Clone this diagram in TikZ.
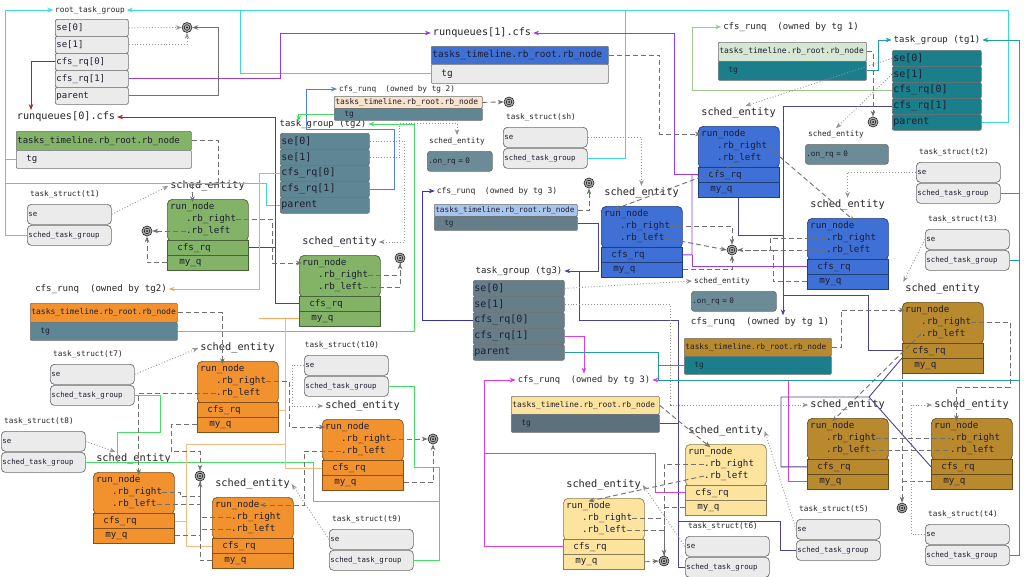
\documentclass[tikz,border=0pt]{standalone}
\usepackage{fontspec}
\setmainfont{DejaVu Sans Mono}
\usetikzlibrary{arrows.meta,calc,positioning}

\definecolor{rowgrey}{HTML}{EBEBEB}
\definecolor{edgegrey}{HTML}{6E6E6E}
\definecolor{txtdark}{HTML}{1E1E32}
\definecolor{segreen}{HTML}{82B366}
\definecolor{seblue}{HTML}{3E70D6}
\definecolor{seorange}{HTML}{F2922F}
\definecolor{seyellow}{HTML}{FDE49E}
\definecolor{segold}{HTML}{B8892D}
\definecolor{tgslate}{HTML}{5F8694}
\definecolor{tgslatec}{HTML}{667E8A}
\definecolor{tgteal}{HTML}{1B7F8B}
\definecolor{onrq}{HTML}{6B8B96}
\definecolor{hdbeige}{HTML}{F9E3CC}
\definecolor{hdlblue}{HTML}{A8C5EE}
\definecolor{hdlgreen}{HTML}{D6E8D3}
\definecolor{lncyan}{HTML}{3DD8D8}
\definecolor{lnpurple}{HTML}{9B3BDE}
\definecolor{lnred}{HTML}{9A2C2C}
\definecolor{lnblue}{HTML}{4E80D8}
\definecolor{lngreen}{HTML}{45DD62}
\definecolor{lnorange}{HTML}{F4A85E}
\definecolor{lnnavy}{HTML}{3434B4}
\definecolor{lnslate}{HTML}{4B4590}
\definecolor{lnmagenta}{HTML}{E03CE0}
\definecolor{lnteal}{HTML}{1F9CA6}
\definecolor{lnlgreen}{HTML}{9DC991}
\definecolor{lngrey}{HTML}{707070}

\newcommand{\mfs}[1]{\fontsize{#1}{#1}\selectfont}

\tikzset{
  >={Stealth[length=6pt,width=4.6pt]},
  fld/.style 2 args={draw=edgegrey, line width=0.7pt, anchor=north west,
    inner sep=0pt, minimum width=#1, text width=#1, minimum height=#2,
    align=left, text=txtdark, rounded corners=2pt},
  lbl/.style={inner sep=0pt, outer sep=2pt, text=black!85},
  setxt/.style={anchor=west, inner sep=0pt, text=txtdark, font=\mfs{9.2}},
  seblk/.style={line width=0.7pt, anchor=north west, minimum width=81pt,
    minimum height=42pt, rounded corners=5pt, inner sep=0pt},
  serow/.style={fld={81pt}{15pt}, rounded corners=0pt, font=\mfs{9.2}},
  nilsym/.style={circle, minimum size=10pt, inner sep=0pt, fill=gray!65,
    draw=gray!25!black, line width=0.6pt,
    path picture={\draw[gray!20!black,line width=0.5pt] (path picture bounding box.center) circle (2.8pt);
      \fill[gray!20!black] (path picture bounding box.center) circle (1pt);}},
  ln/.style={line width=0.9pt},
  rbln/.style={draw=lngrey, line width=0.9pt, dash pattern=on 5pt off 3pt},
  dotln/.style={draw=gray!85, line width=0.9pt, dash pattern=on 0.9pt off 2pt},
}

% sched_entity: name, x, y, colour
\newcommand{\schedent}[4]{%
  \node[lbl,font=\mfs{10.3}] (#1-l) at (#2+40.5,#3-13) {sched\_entity};
  \node[seblk,fill=#4,draw=#4!55!black] (#1) at (#2,#3) {};
  \node[setxt] (#1-rn) at (#2+3,#3+8) {run\_node};
  \node[setxt] (#1-rr) at (#2+19,#3+20) {.rb\_right};
  \node[setxt] (#1-rl) at (#2+19,#3+32) {.rb\_left};
  \node[serow,fill=#4,draw=#4!55!black] (#1-cq) at (#2,#3+41) {\hspace*{10pt}cfs\_rq};
  \node[serow,fill=#4,draw=#4!55!black] (#1-mq) at (#2,#3+56) {\hspace*{12pt}my\_q};
}
% task_struct: name, tag, x, y
\newcommand{\taskst}[4]{%
  \node[lbl,font=\mfs{7.7}] (#1-l) at (#3+38,#4-10) {task\_struct(#2)};
  \node[fld={84pt}{20pt},fill=rowgrey,rounded corners=4pt,font=\mfs{7.4}] (#1-se) at (#3,#4) {\hspace*{1pt}se};
  \node[fld={84pt}{20pt},fill=rowgrey,rounded corners=4pt,font=\mfs{7.4}] (#1-stg) at (#3,#4+21) {\hspace*{1pt}sched\_task\_group};
}
% task_group rows: name, x, y, width, row height, fill, font size
\newcommand{\taskgrp}[7]{%
  \node[fld={#4pt}{#5pt},fill=#6,font=\mfs{#7}] (#1-s0) at (#2,#3) {\hspace*{1pt}se[0]};
  \node[fld={#4pt}{#5pt},fill=#6,font=\mfs{#7}] (#1-s1) at (#2,#3+#5) {\hspace*{1pt}se[1]};
  \node[fld={#4pt}{#5pt},fill=#6,font=\mfs{#7}] (#1-c0) at (#2,#3+2*#5) {\hspace*{1pt}cfs\_rq[0]};
  \node[fld={#4pt}{#5pt},fill=#6,font=\mfs{#7}] (#1-c1) at (#2,#3+3*#5) {\hspace*{1pt}cfs\_rq[1]};
  \node[fld={#4pt}{#5pt},fill=#6,font=\mfs{#7}] (#1-p) at (#2,#3+4*#5) {\hspace*{1pt}parent};
}
% cfs_rq box: name, x, y, width, head height, tg height, head fill, tg fill, font size
\newcommand{\cfsq}[9]{%
  \node[fld={#4pt}{#5pt},fill=#7,rounded corners=1pt,font=\mfs{#9}] (#1-h) at (#2,#3) {\hspace*{1pt}tasks\_timeline.rb\_root.rb\_node};
  \node[fld={#4pt}{#6pt},fill=#8,rounded corners=1pt,font=\mfs{#9}] (#1-tg) at (#2,#3+#5) {\hspace*{10pt}tg};
}
% not queued sched_entity: name, x, y, width, label x
\newcommand{\onrq}[5]{%
  \node[lbl,font=\mfs{7.7}] (#1-l) at (#5,#3-10) {sched\_entity};
  \node[fld={#4pt}{20pt},fill=onrq,rounded corners=3pt,font=\mfs{7.6}] (#1) at (#2,#3) {\hspace*{1pt}.on\_rq = 0};
}
\newcommand{\nullsym}[3]{\node[nilsym] (#1) at (#2,#3) {};}

\begin{document}
\begin{tikzpicture}[x=1pt,y=-1pt]
\fill[white] (0,0) rectangle (1024,576);
\useasboundingbox (0,0) rectangle (1024,576);

% groups
\node[lbl,font=\mfs{7.7}] (root-l) at (90,10) {root\_task\_group};
\taskgrp{root}{55}{19}{73}{17}{rowgrey}{9}
\node[lbl,font=\mfs{9}] (tg2-l) at (323,124) {task\_group (tg2)};
\taskgrp{tg2}{280}{133}{89}{16}{tgslate}{10}
\node[lbl,font=\mfs{9}] (tg3-l) at (519,271) {task\_group (tg3)};
\taskgrp{tg3}{473}{280}{91}{16}{tgslatec}{10}
\node[lbl,font=\mfs{9}] (tg1-l) at (937,40) {task\_group (tg1)};
\taskgrp{tg1}{892}{50}{89}{16}{tgteal}{10}

% run queues
\node[lbl,font=\mfs{10.2}] (rq0-l) at (66,117) {runqueues[0].cfs};
\cfsq{rq0}{16}{131}{175}{19}{18}{segreen}{rowgrey}{9}
\node[lbl,font=\mfs{10.2}] (rq1-l) at (482,33) {runqueues[1].cfs};
\cfsq{rq1}{431}{46}{177}{18}{19}{seblue}{rowgrey}{9.4}
\node[lbl,font=\mfs{7.7}] (tg2q1-l) at (397,89) {cfs\_runq\ \ (owned by tg 2)};
\cfsq{tg2q1}{334}{96}{148}{12}{12}{hdbeige}{tgslate}{7.9}
\node[lbl,font=\mfs{9.1}] (tg2q0-l) at (101,289) {cfs\_runq\ \ (owned by tg2)};
\cfsq{tg2q0}{30}{303}{147}{19}{18}{seorange}{tgslate}{8}
\node[lbl,font=\mfs{8}] (tg3q1-l) at (497,191) {cfs\_runq\ \ (owned by tg 3)};
\cfsq{tg3q1}{434}{204}{143}{12}{14}{hdlblue}{tgslatec}{7.7}
\node[lbl,font=\mfs{8.8}] (tg3q0-l) at (584,380) {cfs\_runq\ \ (owned by tg 3)};
\cfsq{tg3q0}{511}{396}{148}{18}{18}{seyellow}{tgslatec!90!black}{7.9}
\node[lbl,font=\mfs{9}] (tg1q1-l) at (791,27) {cfs\_runq\ \ (owned by tg 1)};
\cfsq{tg1q1}{718}{42}{148}{19}{19}{hdlgreen}{tgteal}{8}
\node[lbl,font=\mfs{9.2}] (tg1q0-l) at (760,322) {cfs\_runq\ \ (owned by tg 1)};
\cfsq{tg1q0}{684}{338}{147}{18}{18}{segold}{tgteal}{7.8}

% entities not on a queue
\onrq{tg2on}{427}{151}{65}{457}
\onrq{tg1on}{805}{144}{83}{836}
\onrq{tg3on}{691}{291}{85}{722}

% sched entities
\schedent{g1}{167}{199}{segreen}
\schedent{g2}{299}{255}{segreen}
\schedent{b1}{698}{126}{seblue}
\schedent{b2}{601}{206}{seblue}
\schedent{b3}{807}{218}{seblue}
\schedent{o1}{197}{361}{seorange}
\schedent{o2}{322}{419}{seorange}
\schedent{o3}{93}{472}{seorange}
\schedent{o4}{212}{497}{seorange}
\schedent{y1}{685}{444}{seyellow}
\schedent{y2}{563}{498}{seyellow}
\schedent{au1}{902}{302}{segold}
\schedent{au2}{807}{418}{segold}
\schedent{au3}{931}{418}{segold}

% tasks
\taskst{sh}{sh}{503}{127}
\taskst{t1}{t1}{27}{204}
\taskst{t2}{t2}{916}{162}
\taskst{t3}{t3}{925}{229}
\taskst{t7}{t7}{50}{364}
\taskst{t8}{t8}{1}{431}
\taskst{t10}{t10}{304}{355}
\taskst{t9}{t9}{329}{529}
\taskst{t6}{t6}{685}{536}
\taskst{t5}{t5}{796}{519}
\taskst{t4}{t4}{925}{524}

% NULL
\nullsym{n1}{187}{27.5}
\nullsym{n2}{147}{231}
\nullsym{n3}{509}{102}
\nullsym{n4}{400}{258}
\nullsym{n5}{589}{183}
\nullsym{n6}{873}{122}
\nullsym{n7}{732}{250}
\nullsym{n8}{200}{476}
\nullsym{n9}{433}{439}
\nullsym{n10}{664}{561}
\nullsym{n11}{902}{508}

% root_task_group
\draw[ln,lncyan,->] (t1-stg.west) -- ++(-22,0) |- (root-l.west);
\draw[ln,lncyan] (rq0-tg.west) -- ++(-11,0);
\draw[ln,lncyan] (tg2-p.west) -- ++(-14,0) |- (5,183);
\draw[ln,lncyan,->] (tg1-p.east) -- ++(27,0) |- (root-l.east);
\draw[ln,lncyan] (rq1-tg.west) -| (240,10);
\draw[ln,lncyan] (sh-stg.east) -| (625,10);

% runqueues
\draw[ln,lnred,->] (root-c0.west) -| ($(rq0-l.north)+(-35,0)$);
\draw[ln,lnred,->] (g2-cq.west) -| (275,117) -- (rq0-l.east);
\draw[ln,lnred] (g1-cq.east) -- ++(27,0);
\draw[ln,lnpurple,->] (root-c1.east) -| (280,33) -- (rq1-l.west);
\draw[ln,lnpurple,->] (b1-cq.west) -| (674,33) -- (rq1-l.east);
\draw[ln,lnpurple] (b2-cq.east) -| (692,174.5) -- (b1-cq.west);
\draw[ln,lnpurple] (b3-cq.west) -| (692,254.5);

% tg2
\draw[ln,lnblue,->] (tg2-c1.east) -- ++(25,0) |- (306,129) |- (tg2q1-l.west);
\draw[ln,lngreen,->] (tg2q1-tg.west) -| ($(tg2-l.north west)+(21,4)$);
\draw[ln,lngreen,->] (tg2q0-tg.east) -- ++(237,0) |- (tg2-l.east);
\draw[ln,lngreen] (t10-stg.east) -- ++(26,0);
\draw[ln,lngreen] (t9-stg.east) -| (439,467) -| (414,386);
\draw[ln,lngreen] (t8-stg.east) -| (313,501) -- (439,501);
\draw[ln,lngreen] (t7-stg.east) -| (160,432) -| (117,462);
\draw[ln,lnorange,->] (tg2-c0.west) -| (259,289) -- (tg2q0-l.east);
\draw[ln,lnorange] (g2-mq.west) -- ++(-40,0);
\draw[ln,lnorange!80,line width=0.7pt] (o2-cq.west) -| (285,318.5);
\draw[ln,lnorange!80,line width=0.7pt] (o1-cq.east) -- ++(7,0);
\draw[ln,lnorange!80,line width=0.7pt] (o3-cq.east) -- ++(12,0);
\draw[ln,lnorange!80,line width=0.7pt] (o4-cq.west) -| (186,444) -- (285,444);

% tg3
\draw[ln,lnnavy,->] (tg3-c0.west) -- ++(-51,0) |- (tg3q1-l.west);
\draw[ln,lnslate,->] (tg3q1-tg.east) -- ++(21,0) |- (tg3-l.east);
\draw[ln,lnslate] (t6-stg.west) -| (678,320) -| (579,271);
\draw[ln,lnslate] (t5-stg.west) -| (780,521) -- (678,521);
\draw[ln,lnslate] (tg3q0-tg.east) -- ++(19,0);
\draw[ln,lnmagenta,->] (tg3-c1.east) -| (tg3q0-l.north);
\draw[ln,lnmagenta,->] (au2-mq.west) -- ++(-19,0) |- (tg3q0-l.east);
\draw[ln,lnmagenta,->] (y2-cq.west) -- ++(-79,0) |- (tg3q0-l.west);
\draw[ln,lnmagenta] (y1-cq.west) -| (655,453) -- (484,453);

% tg1
\draw[ln,lnteal,->] (tg1q1-tg.east) -- ++(12,0) |- (tg1-l.west);
\draw[ln,lnteal,->] (t4-stg.east) -- ++(10,0) |- (tg1-l.east);
\draw[ln,lnteal] (t2-stg.east) -- ++(19,0);
\draw[ln,lnteal] (t3-stg.east) -- ++(10,0);
\draw[ln,lnteal] (tg3-p.east) -| (658,380) -- (1019,380);
\draw[ln,lnteal] (tg1q0-tg.west) -- ++(-26,0);
\draw[ln,lnlgreen,->] (tg1-c0.west) -- ++(-200,0) |- (tg1q1-l.west);
\draw[ln,lnslate,->] (tg1-c1.west) -| ($(tg1q0-l.north)+(23,0)$);
\draw[ln,lnslate] (b1-mq.south) |- (783,235);
\draw[ln,lnslate] (au1-cq.west) -- ++(-34,0) |- (783,295);
\draw[ln,lnslate] (au2-cq.west) -- ++(-26,0) |- (869,397) -- (au1-mq.north west);
\draw[ln,lnslate] (au3-cq.west) -- (869,397);

% rb tree links
\draw[rbln,->] (rq0-h.east) -- ++(27,0) -- ++(0,44) -| (g1-rn.north);
\draw[rbln,->] (g1-rr.east) -| ($(g2-rn.west)+(-30,0)$) -- (g2-rn.west);
\draw[rbln,->] (g1-rl.west) -- (n2.east);
\draw[rbln,->] (g1-mq.west) -| (n2.south);
\draw[rbln,->] (g2-rr.east) -| (n4.south);
\draw[rbln] (g2-rl.east) -| (n4.south);
\draw[rbln,->] (rq1-h.east) -- ++(51,0) |- (b1-rn.west);
\draw[rbln,->] (tg2q1-h.east) -- (n3.west);
\draw[rbln,->] (tg3q1-h.east) -| (n5.south);
\draw[rbln,->] (b1-rl.south) -- ($(b2-rn.north)+(-12,0)$);
\draw[rbln,->] (b1-rr.east) -- (b3-rn.north east);
\draw[rbln,->] (b2-rr.east) -| (n7.north);
\draw[rbln,->] (b2-rl.east) -- (n7.west);
\draw[rbln,->] (b2-mq.east) -| (n7.south);
\draw[rbln,->] (b3-rr.west) -- ++(-56,0) |- (n7.east);
\draw[rbln] (b3-rl.west) -- ++(-56,0);
\draw[rbln] (b3-mq.west) -- ++(-34,0) |- (n7.east);
\draw[rbln,->] (tg1q1-h.east) -| (n6.north);
\draw[rbln,->] (tg2q0-h.east) -| (o1-rn.north);
\draw[rbln,->] (o1-rr.east) -- ++(23,0) |- (o2-rn.west);
\draw[rbln,->] (o1-rl.west) -| ($(o3-rn.north east)+(-2,0)$);
\draw[rbln,->] (o1-mq.west) -- ++(-26,0) |- ($(n8.north)+(0,-19)$) -- (n8.north);
\draw[rbln,->] (o3-mq.east) -| (n8.south);
\draw[rbln] (o3-rr.east) -- ++(18,0) -- ++(0,4) -| (n8.south);
\draw[rbln] (o3-rl.east) -| (n8.south);
\draw[rbln] (o4-rr.west) -| (n8.south);
\draw[rbln] (o4-rl.west) -| (n8.south);
\draw[rbln] (o4-mq.west) -| (n8.south);
\draw[rbln,->] (o2-rr.east) -- (n9.west);
\draw[rbln,->] (o2-mq.east) -| (n9.south);
\draw[rbln,->] (o2-rl.west) -- ++(-37,0) |- (o4-rn.east);
\draw[rbln,->] (tg3q0-h.east) -- (y1-rn.north);
\draw[rbln,->] (y1-rr.west) -| (n10.north);
\draw[rbln] (y1-mq.west) -| (n10.north);
\draw[rbln,->] (y1-rl.west) -- (y2-rn.north);
\draw[rbln] (y2-rr.east) -| (n10.north);
\draw[rbln] (y2-rl.east) -| (n10.north);
\draw[rbln,->] (y2-mq.east) -- (n10.west);
\draw[rbln,->] (tg1q0-h.east) -- ++(10,0) |- (au1-rn.west);
\draw[rbln,->] (au1-rr.east) -- ++(39,0) |- ($(au3-rn.north)+(0,-34)$) -- (au3-rn.north);
\draw[rbln,->] (au1-rl.west) -- (au2-rn.north);
\draw[rbln] (au2-rr.east) -- (au3-rr.west);
\draw[rbln] (au2-rl.east) -- (au3-rl.west);
\draw[rbln] (au3-mq.west) -- ++(-29,0);
\draw[rbln,->] (au1-mq.south west) -- (n11.north);

% se pointers
\draw[dotln,->] (root-s0.east) -- (n1.west);
\draw[dotln,->] (root-s1.east) -| (n1.south);
\draw[ln,lngrey,->] (root-p.east) -- ++(90,0) |- (n1.east);
\draw[dotln,->] (t1-se.east) -- (g1-l.west);
\draw[dotln,->] (tg2-s0.east) -- ++(35,0) |- (g2-l.east);
\draw[dotln,->] (tg2-s1.east) -- ++(30,0) |- ($(tg2on-l.north)+(0,-11.5)$) -- (tg2on-l.north);
\draw[dotln,->] (sh-se.east) -| (b2-l.north);
\draw[dotln,->] (tg1-s0.west) -- ($(b1-l.north)+(7,0)$);
\draw[dotln,->] (tg1-s1.west) -- (tg1on-l.north);
\draw[dotln,->] (t2-se.west) -| (b3-l.north);
\draw[dotln,->] (tg3-s0.east) -- (tg3on-l.west);
\draw[dotln,->] (tg3-s1.east) -- ++(106,0) |- (au2-l.west);
\draw[dotln,->] (t3-se.west) -- (au1-l.north west);
\draw[dotln,->] (t4-se.west) -- ++(-14,0) |- (au3-l.west);
\draw[dotln,->] (t5-se.west) -- (y1-l.east);
\draw[dotln,->] (t6-se.west) -- (y2-l.east);
\draw[dotln,->] (t7-se.east) -- (o1-l.west);
\draw[dotln,->] (t8-se.east) -- ($(o3-l.north)+(-18,0)$);
\draw[dotln,->] (t10-se.west) -- ++(-12,0) |- (o2-l.west);
\draw[dotln,->] (t9-se.west) -- (o4-l.east);

\end{tikzpicture}
\end{document}
